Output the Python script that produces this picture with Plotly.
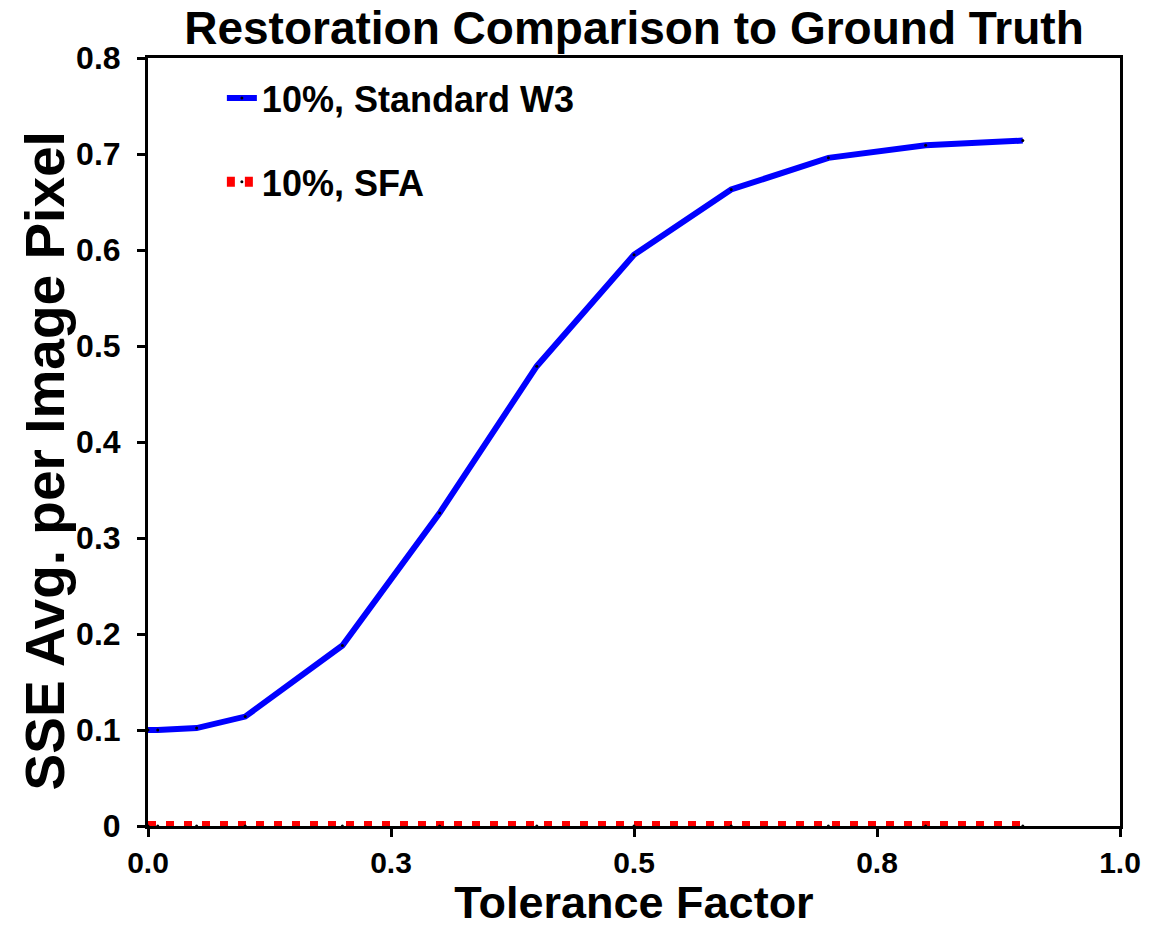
import plotly.graph_objects as go

# Tolerance factor sampled for each restoration run
tolerance = [0.0, 0.01, 0.05, 0.1, 0.2, 0.3, 0.4, 0.5, 0.6, 0.7, 0.8, 0.9]

# Average SSE per image pixel for each method
sse_standard_w3 = [0.100, 0.100, 0.102, 0.114, 0.188, 0.326, 0.479, 0.595, 0.663, 0.696, 0.709, 0.714]
sse_sfa = [0.0, 0.0, 0.0, 0.0, 0.0, 0.0, 0.0, 0.0, 0.0, 0.0, 0.0, 0.0]

series_names = ["10%, Standard W3", "10%, SFA"]

FONT = "Liberation Sans, Arial, sans-serif"

fig = go.Figure()

fig.add_trace(go.Scatter(
    x=tolerance, y=sse_standard_w3, name=series_names[0],
    mode="lines+markers",
    line=dict(color="#0000FF", width=6),
    marker=dict(color="black", size=3),
    legendgroup="a",
))

fig.add_trace(go.Scatter(
    x=tolerance, y=sse_sfa, name=series_names[1],
    mode="lines+markers",
    line=dict(color="#FF0000", width=10, dash="8px,10px"),
    marker=dict(color="black", size=3),
    legendgroup="b",
    cliponaxis=False,
))

axis_common = dict(
    showline=True, linecolor="black", linewidth=3, mirror=True,
    ticks="outside", ticklen=8, tickwidth=3, tickcolor="black",
    showgrid=False, zeroline=False, layer="below traces",
    automargin=False,
)

fig.update_xaxes(
    range=[0, 1], tickvals=[0, 0.25, 0.5, 0.75, 1.0], tickformat=".1f",
    tickfont=dict(family=FONT, size=30, color="black", weight="bold"),
    title=dict(text="Tolerance Factor", standoff=10,
               font=dict(family=FONT, size=45, color="black", weight="bold")),
    **axis_common,
)
fig.update_yaxes(
    range=[0, 0.8], dtick=0.1, ticklabelstandoff=10,
    tickfont=dict(family=FONT, size=32, color="black", weight="bold"),
    **axis_common,
)

fig.update_layout(
    width=1150, height=928,
    margin=dict(l=148, r=30, t=58, b=102),
    paper_bgcolor="white", plot_bgcolor="white",
    title=dict(text="Restoration Comparison to Ground Truth",
               x=0.5, xref="paper", y=0.97, yanchor="middle",
               font=dict(family=FONT, size=46, color="black", weight="bold")),
    legend=dict(
        x=0.076, y=0.987, xanchor="left", yanchor="top",
        bgcolor="rgba(0,0,0,0)", traceorder="grouped", tracegroupgap=34,
        font=dict(family=FONT, size=36, color="black", weight="bold"),
    ),
    showlegend=True,
    annotations=[dict(
        text="SSE Avg. per Image Pixel", textangle=-90,
        xref="paper", yref="paper", x=-0.106, y=0.476,
        xanchor="center", yanchor="middle", showarrow=False,
        font=dict(family=FONT, size=55, color="black", weight="bold"),
    )],
)

fig.write_html("out.html")
